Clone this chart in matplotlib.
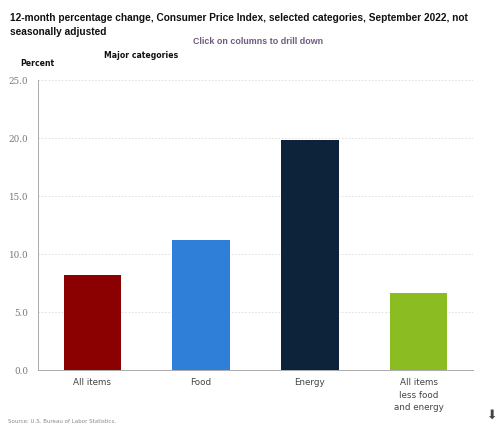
import matplotlib.pyplot as plt
import numpy as np

# CPI, 12-month change, September 2022
categories = ["All items", "Food", "Energy", "All items\nless food\nand energy"]
values = [8.2, 11.2, 19.8, 6.6]
colors = ["#8b0000", "#2f7ed8", "#0d233a", "#8bbc21"]
yticks = [0.0, 5.0, 10.0, 15.0, 20.0, 25.0]

fig = plt.figure(figsize=(4.98, 4.23), dpi=100)
ax = fig.add_axes([38 / 498, 1 - 370 / 423, 435 / 498, 290 / 423])

x = np.arange(len(categories))
ax.bar(x, values, width=0.53, color=colors, zorder=3)

ax.set_xlim(-0.5, len(categories) - 0.5)
ax.set_ylim(0, 25)
ax.set_yticks(yticks)
ax.set_yticklabels([f"{v:.1f}" for v in yticks], fontsize=6.3, color="#777777",
                   family="DejaVu Serif")
ax.set_xticks(x)
ax.set_xticklabels(categories, fontsize=6.3, color="#444444", linespacing=1.5)
ax.tick_params(axis="both", length=0, pad=7)
ax.tick_params(axis="x", pad=6)

ax.grid(axis="y", color="#dddddd", linestyle=(0, (2, 2)), linewidth=0.6, zorder=0)
for side in ["top", "right"]:
    ax.spines[side].set_visible(False)
ax.spines["left"].set_color("#aaaaaa")
ax.spines["bottom"].set_color("#aaaaaa")
ax.spines["left"].set_linewidth(0.7)
ax.spines["bottom"].set_linewidth(0.7)

fig.text(10 / 498, 1 - 18 / 423,
         "12-month percentage change, Consumer Price Index, selected categories, September 2022, not",
         fontsize=7.3, fontweight="bold", color="#111111", va="center", family="Liberation Sans")
fig.text(10 / 498, 1 - 32 / 423, "seasonally adjusted",
         fontsize=7.3, fontweight="bold", color="#111111", va="center", family="Liberation Sans")
fig.text(258 / 498, 1 - 42 / 423, "Click on columns to drill down",
         fontsize=6.4, fontweight="bold", color="#6e5c80", ha="center", va="center",
         family="Liberation Sans")
fig.text(104 / 498, 1 - 56 / 423, "Major categories", fontsize=5.6, fontweight="bold",
         color="#111111", va="center")
fig.text(20 / 498, 1 - 63 / 423, "Percent", fontsize=5.6, fontweight="bold",
         color="#111111", va="center")
fig.text(8 / 498, 1 - 421 / 423, "Source: U.S. Bureau of Labor Statistics.",
         fontsize=4, color="#888888", va="center")
fig.text(492 / 498, 1 - 415 / 423, "\u2b07", fontsize=9, color="#444444",
         ha="center", va="center")

fig.savefig("out.png", dpi=100)
